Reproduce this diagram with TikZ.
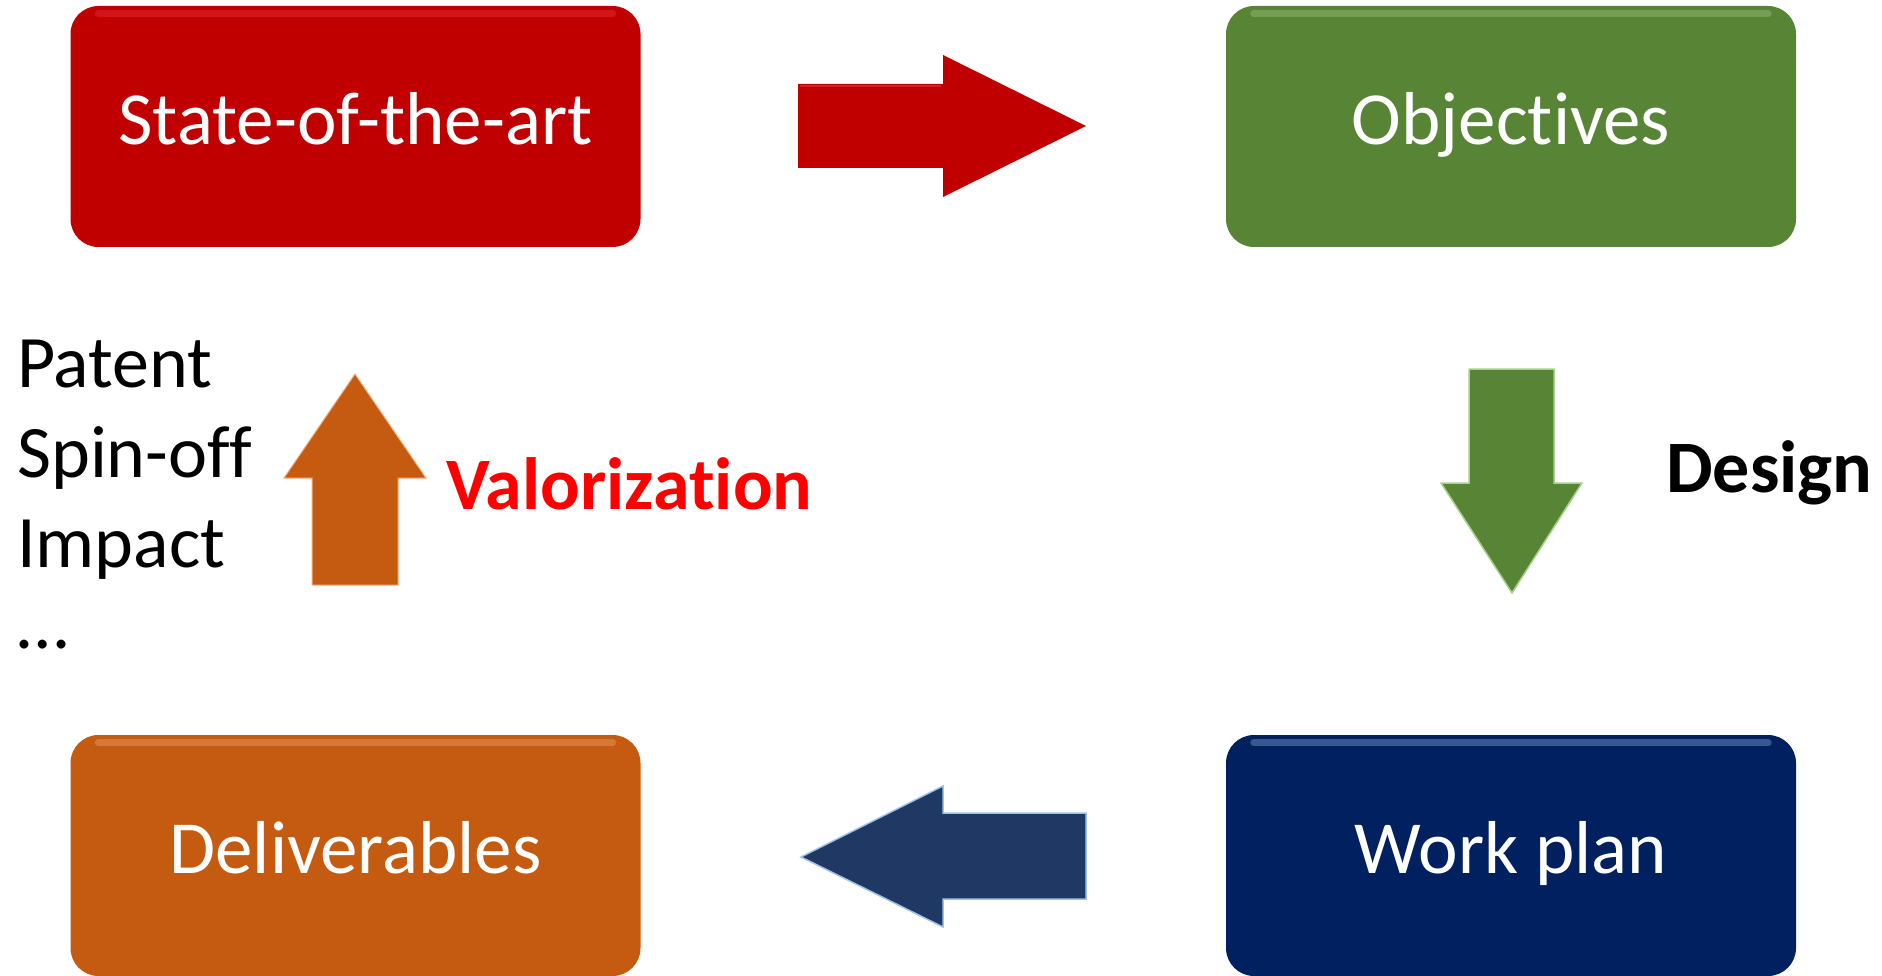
\documentclass[tikz,border=0pt]{standalone}
\usepackage{fontspec}
\setmainfont{Carlito}[Ligatures=NoCommon]
\definecolor{cRed}{HTML}{C00000}
\definecolor{cGreen}{HTML}{578435}
\definecolor{cBlue}{HTML}{002060}
\definecolor{cOrange}{HTML}{C55A11}
\definecolor{cBlueArrow}{HTML}{203864}
\definecolor{cRedHi}{HTML}{F04040}
\definecolor{cGreenHi}{HTML}{A9D18E}
\definecolor{cBlueHi}{HTML}{9DC3E6}
\definecolor{cOrangeHi}{HTML}{F4B183}
\definecolor{cValor}{HTML}{FF0000}
\tikzset{
  box/.style={rounded corners=28pt, minimum width=570pt, minimum height=241pt,
    inner sep=0pt, text=white, text height=52pt, text depth=16pt,
    font=\fontsize{75}{90}\selectfont},
  sidetext/.style={anchor=base west, inner sep=0pt, font=\fontsize{74}{90}\selectfont},
  gloss/.style={line width=7pt, line cap=round, opacity=.35},
}
\begin{document}
\begin{tikzpicture}[x=1pt,y=-1pt]
\useasboundingbox (0,0) rectangle (1882,976);
% boxes
\node[box, fill=cRed]    (sota) at (355.5,126.5) {State-of-the-art};
\node[box, fill=cGreen]  (obj)  at (1511,126.5) {Objectives};
\node[box, fill=cBlue]   (wp)   at (1511,855.5) {Work plan};
\node[box, fill=cOrange] (del)  at (355.5,855.5) {Deliverables};
% top gloss
\draw[gloss, cRedHi] ([xshift=28pt,yshift=-8pt]sota.north west) -- ([xshift=-28pt,yshift=-8pt]sota.north east);
\draw[gloss, cGreenHi] ([xshift=28pt,yshift=-8pt]obj.north west) -- ([xshift=-28pt,yshift=-8pt]obj.north east);
\draw[gloss, cBlueHi] ([xshift=28pt,yshift=-8pt]wp.north west) -- ([xshift=-28pt,yshift=-8pt]wp.north east);
\draw[gloss, cOrangeHi] ([xshift=28pt,yshift=-8pt]del.north west) -- ([xshift=-28pt,yshift=-8pt]del.north east);
% block arrows
\fill[cRed] (798,84) -- (943,84) -- (943,55) -- (1086,126) -- (943,197) -- (943,168) -- (798,168) -- cycle;
\draw[cRedHi, line width=2pt, opacity=.5] (800,86) -- (941,86);
\filldraw[fill=cGreen, draw=cGreenHi, line width=1.5pt] (1469,369) -- (1554,369) -- (1554,483) -- (1582,483) -- (1512,593) -- (1441,483) -- (1469,483) -- cycle;
\filldraw[fill=cBlueArrow, draw=cBlueHi, line width=1.5pt] (1086,813) -- (943,813) -- (943,786) -- (801,857) -- (943,927) -- (943,899) -- (1086,899) -- cycle;
\filldraw[fill=cOrange, draw=cOrangeHi, line width=1pt] (312,585) -- (312,478) -- (284,478) -- (355,374) -- (426,478) -- (398,478) -- (398,585) -- cycle;
% labels
\node[sidetext] (patent) at (17,387) {Patent};
\node[sidetext] (spin)   at (17,477) {Spin-off};
\node[sidetext] (impact) at (17,567) {Impact};
\node[sidetext] (dots)   at (17,648) {…};
\node[sidetext, text=cValor, font=\fontsize{74}{90}\selectfont\bfseries] (valor) at (446,509) {Valorization};
\node[sidetext, font=\fontsize{74}{90}\selectfont\bfseries] (design) at (1666,492) {Design};
\end{tikzpicture}
\end{document}
